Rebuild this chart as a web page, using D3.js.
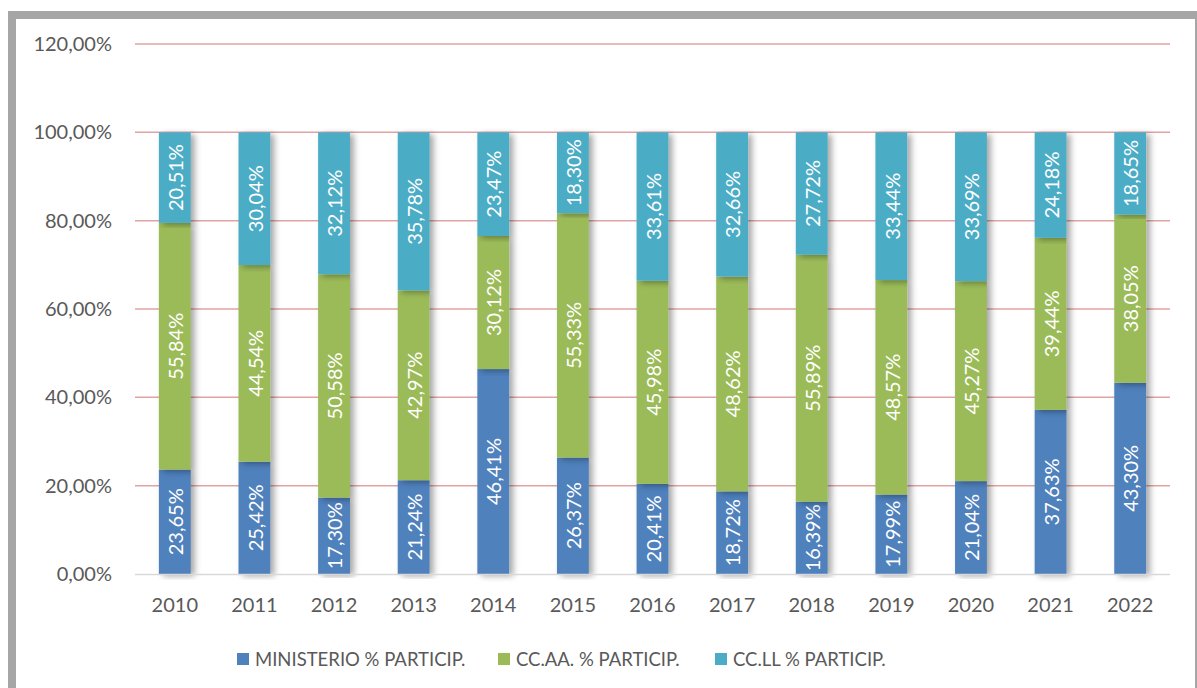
<!DOCTYPE html>
<html>
<head>
<meta charset="utf-8">
<script src="https://cdn.jsdelivr.net/npm/d3@7"></script>
<style>
  body { margin: 0; background: #fff; }
  text { font-family: Lato, "Open Sans", sans-serif; }
</style>
</head>
<body>
<div class="chart"></div>
<script>
var years = [`2010`,`2011`,`2012`,`2013`,`2014`,`2015`,`2016`,`2017`,`2018`,`2019`,`2020`,`2021`,`2022`];
var ministerio = [23.65, 25.42, 17.30, 21.24, 46.41, 26.37, 20.41, 18.72, 16.39, 17.99, 21.04, 37.63, 43.30];
var ccaa = [55.84, 44.54, 50.58, 42.97, 30.12, 55.33, 45.98, 48.62, 55.89, 48.57, 45.27, 39.44, 38.05];
var ccll = [20.51, 30.04, 32.12, 35.78, 23.47, 18.30, 33.61, 32.66, 27.72, 33.44, 33.69, 24.18, 18.65];
var seriesNames = [`MINISTERIO % PARTICIP.`, `CC.AA. % PARTICIP.`, `CC.LL % PARTICIP.`];
var colors = [`#4f81bd`, `#9bbb59`, `#4bacc6`];
var yTicks = [0, 20, 40, 60, 80, 100, 120];

var fullWidth = 1197, fullHeight = 688;
var margin = {top: 44, left: 135, right: 27, bottom: 114};
var width = fullWidth - margin.left - margin.right;
var height = fullHeight - margin.top - margin.bottom;

var root = d3.select(`.chart`)
    .append(`svg`)
    .attr(`width`, fullWidth)
    .attr(`height`, fullHeight);

// bar shadow
var filter = root.append(`defs`).append(`filter`)
    .attr(`id`, `shadow`)
    .attr(`x`, `-20%`).attr(`y`, `-5%`)
    .attr(`width`, `160%`).attr(`height`, `110%`);
filter.append(`feDropShadow`)
    .attr(`dx`, 4).attr(`dy`, 2)
    .attr(`stdDeviation`, 3)
    .attr(`flood-color`, `#000`)
    .attr(`flood-opacity`, 0.35);

// frame
root.append(`rect`)
    .attr(`x`, 12).attr(`y`, 15)
    .attr(`width`, 1182).attr(`height`, 700)
    .attr(`fill`, `none`)
    .attr(`stroke`, `#a6a6a6`)
    .attr(`stroke-width`, 8);
root.append(`line`)
    .attr(`x1`, 1195.5).attr(`x2`, 1195.5)
    .attr(`y1`, 19).attr(`y2`, 688)
    .attr(`stroke`, `#a6a6a6`).attr(`stroke-width`, 1);
root.append(`rect`)
    .attr(`x`, 16).attr(`y`, 19)
    .attr(`width`, 1179).attr(`height`, 669)
    .attr(`fill`, `#fff`);

var svg = root.append(`g`)
    .attr(`transform`, `translate(${margin.left},${margin.top})`);

var xScale = d3.scaleBand()
    .domain(years)
    .range([0, width])
    .paddingInner(0.6)
    .paddingOuter(0.3);

var yScale = d3.scaleLinear()
    .domain([0, 120])
    .range([height, 0]);

// gridlines
svg.selectAll(`.grid`)
    .data(yTicks.filter(d => d > 0))
    .enter()
    .append(`line`)
    .attr(`class`, `grid`)
    .attr(`x1`, 0).attr(`x2`, width)
    .attr(`y1`, d => yScale(d)).attr(`y2`, d => yScale(d))
    .attr(`stroke`, `#e0a3a3`)
    .attr(`stroke-width`, 1.5);

var yAxis = svg.append(`g`)
    .call(d3.axisLeft(yScale).tickValues(yTicks).tickSize(0).tickPadding(23)
        .tickFormat(d => d3.format(`.2f`)(d).replace(`.`, `,`) + `%`));
yAxis.select(`.domain`).remove();
yAxis.selectAll(`text`)
    .attr(`fill`, `#595959`)
    .style(`font-size`, `20px`);

// 100% stacked: each column is scaled to a total of 100
var rows = years.map((y, i) => ({year: y, m: ministerio[i], a: ccaa[i], l: ccll[i]}));
var stacked = d3.stack().keys([`m`, `a`, `l`]).offset(d3.stackOffsetExpand)(rows);
var pct = v => yScale(v * 100);

var layers = svg.selectAll(`.layer`)
    .data(stacked)
    .enter()
    .append(`g`)
    .attr(`class`, `layer`)
    .attr(`fill`, (d, i) => colors[i]);

layers.selectAll(`rect`)
    .data(d => d.map(p => Object.assign(p, {key: d.key})))
    .enter()
    .append(`rect`)
    .attr(`x`, d => xScale(d.data.year))
    .attr(`y`, d => pct(d[1]))
    .attr(`width`, xScale.bandwidth())
    .attr(`height`, d => pct(d[0]) - pct(d[1]))
    .attr(`filter`, `url(#shadow)`);

// x axis line
svg.append(`line`)
    .attr(`x1`, 0).attr(`x2`, width)
    .attr(`y1`, height + 0.5).attr(`y2`, height + 0.5)
    .attr(`stroke`, `#d9d9d9`)
    .attr(`stroke-width`, 1.5);

// data labels (raw values)
layers.selectAll(`.lbl`)
    .data(d => d)
    .enter()
    .append(`text`)
    .attr(`class`, `lbl`)
    .attr(`transform`, d => `translate(${xScale(d.data.year) + xScale.bandwidth() / 2 + 1},${pct((d[0] + d[1]) / 2)}) rotate(-90)`)
    .attr(`text-anchor`, `middle`)
    .attr(`dy`, `0.36em`)
    .attr(`fill`, `#fff`)
    .style(`font-size`, `20px`)
    .text(d => d3.format(`.2f`)(d.data[d.key]).replace(`.`, `,`) + `%`);

var xAxis = svg.append(`g`)
    .attr(`transform`, `translate(0,${height})`)
    .call(d3.axisBottom(xScale).tickSize(0).tickPadding(24));
xAxis.select(`.domain`).remove();
xAxis.selectAll(`text`)
    .attr(`fill`, `#595959`)
    .style(`font-size`, `20px`);

// legend
var legendX = [237, 498, 715];
var legend = root.selectAll(`.legend`)
    .data(seriesNames)
    .enter()
    .append(`g`)
    .attr(`class`, `legend`)
    .attr(`transform`, (d, i) => `translate(${legendX[i]},659)`);
legend.append(`rect`)
    .attr(`x`, 0).attr(`y`, -6)
    .attr(`width`, 12).attr(`height`, 12)
    .attr(`fill`, (d, i) => colors[i]);
legend.append(`text`)
    .attr(`x`, 18)
    .attr(`dy`, `0.36em`)
    .attr(`fill`, `#595959`)
    .style(`font-size`, `18.5px`)
    .text(d => d);
</script>
</body>
</html>
